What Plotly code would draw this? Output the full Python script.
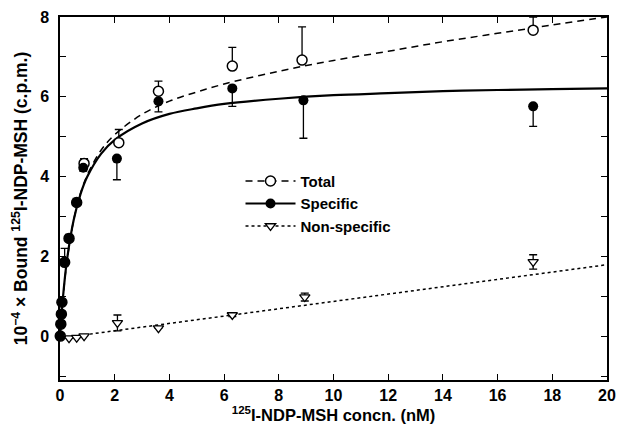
import plotly.graph_objects as go

# ---- data ----
conc_total = [0.01, 0.03, 0.05, 0.07, 0.17, 0.33, 0.61, 0.88, 2.15, 3.6, 6.3, 8.85, 17.3]
total = [0.0, 0.3, 0.55, 0.85, 1.85, 2.45, 3.35, 4.33, 4.85, 6.14, 6.77, 6.92, 7.67]
total_err_up = [0, 0, 0, 0, 0.35, 0.1, 0.1, 0.12, 0.33, 0.25, 0.47, 0.83, 0.33]

conc_specific = [0.01, 0.03, 0.05, 0.07, 0.17, 0.33, 0.61, 0.85, 2.08, 3.6, 6.3, 8.9, 17.3]
specific = [0.0, 0.3, 0.55, 0.85, 1.85, 2.45, 3.35, 4.22, 4.45, 5.89, 6.21, 5.91, 5.76]
specific_err_down = [0, 0, 0, 0, 0, 0, 0.05, 0.08, 0.53, 0.27, 0.45, 0.95, 0.5]

conc_nonspec = [0.33, 0.61, 0.88, 2.1, 3.6, 6.3, 8.95, 17.3]
nonspec = [-0.05, -0.04, 0.0, 0.33, 0.2, 0.53, 0.98, 1.86]
nonspec_err = [0, 0, 0, 0.2, 0, 0.04, 0.1, 0.18]

# fitted curves
curve_x = [0, 0.1, 0.25, 0.5, 0.75, 1, 1.5, 2, 3, 4, 5, 6, 8, 10, 12, 14, 16, 18, 20]
curve_specific = [0, 0.91, 1.88, 2.91, 3.56, 4.0, 4.57, 4.92, 5.33, 5.57, 5.71, 5.82,
                  5.95, 6.04, 6.09, 6.14, 6.17, 6.19, 6.21]
curve_total = [-0.05, 0.87, 1.85, 2.91, 3.58, 4.04, 4.66, 5.05, 5.56, 5.89, 6.12, 6.32,
               6.64, 6.91, 7.14, 7.38, 7.59, 7.80, 8.0]
line_nonspec_x = [0, 20]
line_nonspec_y = [-0.05, 1.79]

FONT = "Liberation Sans, Arial, Helvetica, sans-serif"


def gapped(vals):
    """Interleave None so each point is its own segment (markers only, but legend shows the line)."""
    out = []
    for v in vals:
        out += [v, None]
    return out


def zeros_like(vals):
    return [0 if v is not None else None for v in vals]


fig = go.Figure()

# curves (not in legend)
fig.add_trace(go.Scatter(x=curve_x, y=curve_total, mode="lines", showlegend=False,
                         line=dict(color="black", width=1.5, dash="7px,5px", shape="spline"),
                         hoverinfo="skip"))
fig.add_trace(go.Scatter(x=curve_x, y=curve_specific, mode="lines", showlegend=False,
                         line=dict(color="black", width=2.2, shape="spline"),
                         hoverinfo="skip"))
fig.add_trace(go.Scatter(x=line_nonspec_x, y=line_nonspec_y, mode="lines", showlegend=False,
                         line=dict(color="black", width=1.5, dash="3px,3px"),
                         hoverinfo="skip"))

# data points
fig.add_trace(go.Scatter(
    x=gapped(conc_total), y=gapped(total), name="Total", mode="lines+markers",
    connectgaps=False, cliponaxis=False,
    line=dict(color="black", width=1.5, dash="7px,5px"),
    marker=dict(symbol="circle", size=10, color="white", line=dict(width=1.5, color="black")),
    error_y=dict(type="data", symmetric=False, array=gapped(total_err_up),
                 arrayminus=zeros_like(gapped(total_err_up)),
                 color="black", thickness=1.3, width=4),
))
fig.add_trace(go.Scatter(
    x=gapped(conc_specific), y=gapped(specific), name="Specific", mode="lines+markers",
    connectgaps=False, cliponaxis=False,
    line=dict(color="black", width=2.2),
    marker=dict(symbol="circle", size=10, color="black"),
    error_y=dict(type="data", symmetric=False,
                 array=zeros_like(gapped(specific_err_down)),
                 arrayminus=gapped(specific_err_down),
                 color="black", thickness=1.3, width=4),
))
fig.add_trace(go.Scatter(
    x=gapped(conc_nonspec), y=gapped(nonspec), name="Non-specific", mode="lines+markers",
    connectgaps=False, cliponaxis=False,
    line=dict(color="black", width=1.5, dash="3px,3px"),
    marker=dict(symbol="triangle-down", size=9, color="white",
                line=dict(width=1.3, color="black")),
    error_y=dict(type="data", array=gapped(nonspec_err),
                 color="black", thickness=1.3, width=4),
))

axis_common = dict(showline=True, linecolor="black", linewidth=1.5, mirror="ticks",
                   ticks="inside", ticklen=6, tickwidth=1.2, tickcolor="black",
                   showgrid=False, zeroline=False, automargin=False,
                   tickfont=dict(family=FONT, size=16, color="black", weight="bold"))

fig.update_layout(
    width=619, height=430,
    margin=dict(l=60, r=12, t=17, b=50, autoexpand=False),
    paper_bgcolor="white", plot_bgcolor="white",
    font=dict(family=FONT, color="black", size=15, weight="bold"),
    xaxis=dict(range=[0, 20], tick0=0, dtick=2,
               title=dict(text="<sup>125</sup>I-NDP-MSH concn. (nM)",
                          font=dict(family=FONT, size=16.5, weight="bold"), standoff=4),
               **axis_common),
    yaxis=dict(range=[-1.1, 8], tick0=0, dtick=2,
               minor=dict(dtick=1, tick0=0, ticks="inside", ticklen=6, tickwidth=1.2,
                          tickcolor="black", showgrid=False),
               ticklabelstandoff=6,
               title=dict(text="10<sup>−4</sup> × Bound <sup>125</sup>I-NDP-MSH (c.p.m.)",
                          font=dict(family=FONT, size=17.5, weight="bold"), standoff=8),
               **axis_common),
    legend=dict(x=0.33, y=0.593, xanchor="left", yanchor="top",
                bgcolor="rgba(0,0,0,0)", borderwidth=0,
                font=dict(family=FONT, size=15, color="black", weight="bold"),
                itemwidth=50, tracegroupgap=0),
    showlegend=True,
)

fig.write_html("out.html", config={"displayModeBar": False},
               post_script="document.body.style.margin='0';")
